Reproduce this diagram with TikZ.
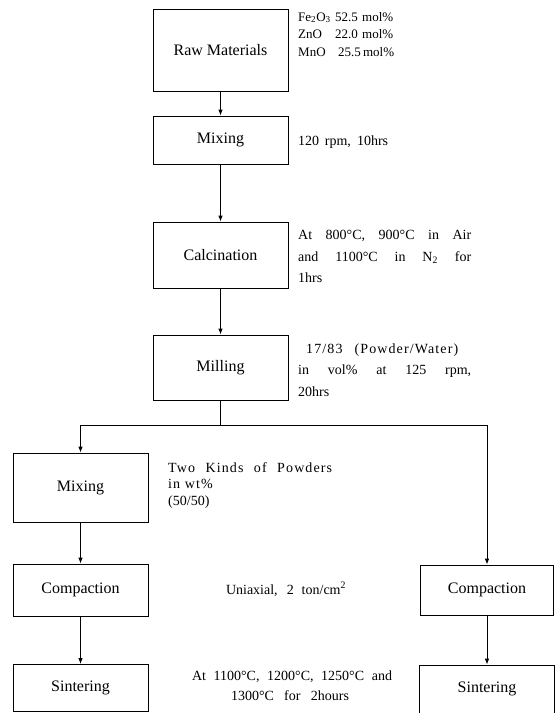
\documentclass[tikz,border=0pt]{standalone}
\usepackage{fontspec}
\setmainfont{Liberation Serif}
\usetikzlibrary{arrows.meta}
\newcommand\boxfnt{\fontsize{16}{18}\selectfont}
\newcommand\notefnt{\fontsize{14}{16}\selectfont}
\newcommand\smfnt{\fontsize{13}{15}\selectfont}
\newcommand\dC{\textdegree C}
\newcommand\wl[2]{\makebox[#1pt][s]{#2}}
\begin{document}
\begin{tikzpicture}[x=1pt,y=-1pt,
  box/.style={draw, line width=0.8pt, minimum width=135pt, inner sep=0pt, font=\boxfnt},
  note/.style={anchor=base west, inner sep=0pt, font=\notefnt},
  smnote/.style={anchor=base west, inner sep=0pt, font=\smfnt},
  widenote/.style={anchor=base west, inner sep=0pt, font=\notefnt\addfontfeature{LetterSpace=8}},
  cnote/.style={anchor=base, inner sep=0pt, font=\notefnt},
  arr/.style={-{Latex[length=6pt,width=4.5pt]}, line width=0.8pt},
  ln/.style={line width=0.8pt}]
\useasboundingbox (0,0) rectangle (555,713);
% boxes
\node[box, minimum height=82pt] (raw) at (220.5,50) {Raw Materials};
\node[box, minimum height=48pt] (mixA) at (220.5,140) {Mixing};
\node[box, minimum height=66pt] (calc) at (220.5,255) {Calcination};
\node[box, minimum height=65pt] (mill) at (220.5,367.5) {Milling};
\node[box, minimum height=69pt] (mixB) at (80.5,487.5) {Mixing};
\node[box, minimum height=52pt] (compL) at (80.5,590) {Compaction};
\node[box, minimum height=47pt] (sintL) at (80.5,688) {Sintering};
\node[box, minimum width=133pt, minimum height=50pt] (compR) at (487,590) {Compaction};
\node[box, minimum height=48pt] (sintR) at (487,689) {Sintering};
% connectors
\draw[arr] (raw) -- (mixA);
\draw[arr] (mixA) -- (calc);
\draw[arr] (calc) -- (mill);
\coordinate (br) at (220.5,425);
\coordinate (bl) at (mixB.north |- br);
\coordinate (bR) at (compR.north |- br);
\draw[ln] (mill.south) -- (br);
\draw[ln] (bl) -- (bR);
\draw[arr] (bl) -- (mixB.north);
\draw[arr] (bR) -- (compR.north);
\draw[arr] (mixB) -- (compL);
\draw[arr] (compL) -- (sintL);
\draw[arr] (compR) -- (sintR);
% notes
\node[smnote] (n1a) at (298,21) {Fe\textsubscript{2}O\textsubscript{3}};
\node[smnote] (n1b) at (335,21) {\wl{58}{52.5 mol\%}};
\node[smnote] (n2a) at (298,38) {ZnO};
\node[smnote] (n2b) at (335,38) {\wl{58}{22.0 mol\%}};
\node[smnote] (n3a) at (298,56) {MnO};
\node[smnote] (n3b) at (338,56) {\wl{55}{25.5 mol\%}};
\node[note] (n4) at (298,145) {\wl{90}{120 rpm, 10hrs}};
\node[note] (n5) at (298,239) {\wl{173}{At 800\dC, 900\dC\ in Air}};
\node[note] (n6) at (298,261) {\wl{173}{and 1100\dC\ in N\textsubscript{2} for}};
\node[note] (n7) at (298,282) {1hrs};
\node[widenote] (n8) at (306,353) {\wl{152}{17/83 (Powder/Water)}};
\node[note] (n9) at (298,374) {\wl{173}{in vol\% at 125 rpm,}};
\node[note] (n10) at (298,396) {20hrs};
\node[widenote] (n11) at (168,472) {\wl{164}{Two Kinds of Powders}};
\node[widenote] (n12) at (168,488) {in wt\%};
\node[note] (n13) at (168,505) {(50/50)};
\node[cnote] (n14) at (286,594) {\wl{120}{Uniaxial, 2 ton/cm\textsuperscript{2}}};
\node[cnote] (n15) at (292,680) {\wl{200}{At 1100\dC, 1200\dC, 1250\dC\ and}};
\node[cnote] (n16) at (290,700) {\wl{118}{1300\dC\ for 2hours}};
\end{tikzpicture}
\end{document}
